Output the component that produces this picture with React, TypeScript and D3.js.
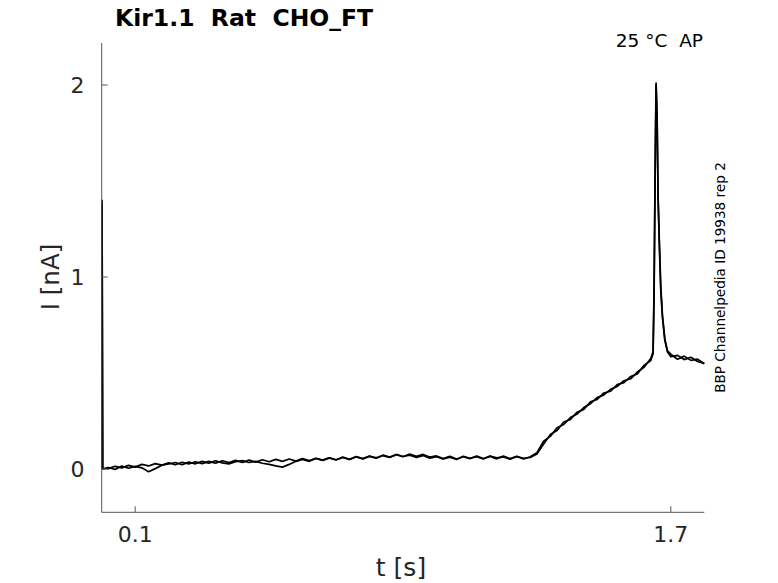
import { useMemo } from 'react';
import * as d3 from 'd3';

const WIDTH = 778;
const HEIGHT = 583;

const TITLE = 'Kir1.1  Rat  CHO_FT';
const CONDITION = '25 °C  AP';
const SIDE_NOTE = 'BBP Channelpedia ID 19938 rep 2';

const X_TICKS = [0.1, 1.7];
const Y_TICKS = [0, 1, 2];

// time points [s], shared by both sweeps
const timeS = [
  0.0005, 0.001, 0.003,
  0.02, 0.04, 0.06, 0.08, 0.10, 0.12, 0.14, 0.16, 0.18, 0.20,
  0.22, 0.24, 0.26, 0.28, 0.30, 0.32, 0.34, 0.36, 0.38, 0.40,
  0.42, 0.44, 0.46, 0.48, 0.50, 0.52, 0.54, 0.56, 0.58, 0.60,
  0.62, 0.64, 0.66, 0.68, 0.70, 0.72, 0.74, 0.76, 0.78, 0.80,
  0.82, 0.84, 0.86, 0.88, 0.90, 0.92, 0.94, 0.96, 0.98, 1.00,
  1.02, 1.04, 1.06, 1.08, 1.10, 1.12, 1.14, 1.16, 1.18, 1.20,
  1.22, 1.24, 1.26, 1.28,
  1.30, 1.32, 1.34, 1.36, 1.38, 1.40, 1.42, 1.44, 1.46, 1.48,
  1.50, 1.52, 1.54, 1.56, 1.58, 1.60, 1.62, 1.64,
  1.647, 1.650, 1.653, 1.656, 1.659, 1.662, 1.666, 1.670, 1.675, 1.682,
  1.69, 1.70, 1.72, 1.74, 1.76, 1.78, 1.80,
];

// current [nA], sweep 1
const sweepA = [
  0.0, 1.40, 0.004,
  0.002, 0.014, 0.006, 0.019, 0.010, 0.024, 0.016, 0.028, 0.020, 0.032,
  0.022, 0.035, 0.026, 0.038, 0.028, 0.040, 0.030, 0.043, 0.033, 0.045,
  0.034, 0.046, 0.036, 0.048, 0.038, 0.050, 0.040, 0.052, 0.041, 0.054,
  0.044, 0.056, 0.046, 0.058, 0.048, 0.060, 0.050, 0.063, 0.053, 0.066,
  0.056, 0.070, 0.060, 0.074, 0.064, 0.078, 0.066, 0.076, 0.062, 0.068,
  0.054, 0.066, 0.052, 0.064, 0.054, 0.068, 0.055, 0.066, 0.053, 0.067,
  0.054, 0.066, 0.052, 0.064,
  0.085, 0.145, 0.170, 0.215, 0.232, 0.268, 0.286, 0.320, 0.340, 0.372,
  0.386, 0.415, 0.430, 0.460, 0.470, 0.505, 0.530, 0.575,
  0.610, 0.950, 1.550, 2.010, 1.820, 1.400, 1.150, 0.930, 0.790, 0.670,
  0.610, 0.585, 0.592, 0.570, 0.582, 0.560, 0.550,
];

// current [nA], sweep 2
const sweepB = [
  0.0, 1.38, 0.000,
  0.008, -0.002, 0.016, 0.004, 0.014, 0.006, -0.014, 0.002, 0.020, 0.026,
  0.034, 0.022, 0.036, 0.027, 0.040, 0.030, 0.043, 0.032, 0.026, 0.038,
  0.044, 0.034, 0.040, 0.030, 0.024, 0.016, 0.010, 0.024, 0.040, 0.050,
  0.040, 0.055, 0.045, 0.058, 0.047, 0.062, 0.050, 0.065, 0.054, 0.068,
  0.058, 0.072, 0.062, 0.076, 0.065, 0.072, 0.060, 0.070, 0.056, 0.064,
  0.052, 0.062, 0.050, 0.066, 0.056, 0.064, 0.052, 0.068, 0.058, 0.063,
  0.051, 0.065, 0.056, 0.060,
  0.078, 0.130, 0.180, 0.200, 0.245, 0.258, 0.296, 0.310, 0.350, 0.362,
  0.396, 0.405, 0.440, 0.450, 0.482, 0.495, 0.540, 0.565,
  0.600, 0.900, 1.500, 2.000, 1.840, 1.420, 1.170, 0.950, 0.800, 0.680,
  0.615, 0.598, 0.572, 0.588, 0.566, 0.572, 0.548,
];

const SWEEPS = [sweepA, sweepB];

const FONT = 'DejaVu Sans, sans-serif';
const AXIS_COLOR = '#555';
const TEXT_COLOR = '#262626';

export default function App() {
  const x = useMemo(() => d3.scaleLinear().domain([0, 1.8]).range([101.7, 704.3]), []);
  const y = useMemo(() => d3.scaleLinear().domain([-0.2255, 2.219]).range([512.3, 43]), []);

  const paths = useMemo(() => {
    const line = d3.line<number>()
      .x((_, i) => x(timeS[i]))
      .y(d => y(d));
    return SWEEPS.map(s => line(s) ?? '');
  }, [x, y]);

  const [x0, x1] = x.range();
  const [yBottom, yTop] = y.range();

  return (
    <svg
      width={WIDTH}
      height={HEIGHT}
      style={{ position: 'absolute', left: 0, top: 0, background: '#fff' }}
      fontFamily={FONT}
    >
      {/* traces */}
      {paths.map((d, i) => (
        <path key={i} d={d} fill="none" stroke="#000" strokeWidth={1.7} strokeLinejoin="round" />
      ))}

      {/* axes */}
      <line x1={x0} x2={x0} y1={yTop} y2={yBottom} stroke={AXIS_COLOR} strokeWidth={1} />
      <line x1={x0} x2={x1} y1={yBottom} y2={yBottom} stroke={AXIS_COLOR} strokeWidth={1} />

      {X_TICKS.map(t => (
        <g key={t}>
          <line x1={x(t)} x2={x(t)} y1={yBottom} y2={yBottom - 6} stroke={AXIS_COLOR} />
          <text x={x(t)} y={541.5} textAnchor="middle" fontSize={22} fill={TEXT_COLOR}>
            {t}
          </text>
        </g>
      ))}

      {Y_TICKS.map(t => (
        <g key={t}>
          <line x1={x0} x2={x0 + 6} y1={y(t)} y2={y(t)} stroke={AXIS_COLOR} />
          <text x={84.5} y={y(t)} dy="0.36em" textAnchor="end" fontSize={22} fill={TEXT_COLOR}>
            {t}
          </text>
        </g>
      ))}

      {/* labels */}
      <text x={401} y={576} textAnchor="middle" fontSize={25} fill={TEXT_COLOR}>t [s]</text>
      <text
        transform={`translate(58.5, 277) rotate(-90)`}
        textAnchor="middle"
        fontSize={24.5}
        fill={TEXT_COLOR}
      >
        I [nA]
      </text>

      <text x={115} y={26} fontSize={23.5} fontWeight="bold" fill="#000" style={{ whiteSpace: 'pre' }}>
        {TITLE}
      </text>
      <text x={703} y={46.5} textAnchor="end" fontSize={18.5} fill="#000" style={{ whiteSpace: 'pre' }}>
        {CONDITION}
      </text>
      <text
        transform={`translate(725, 277.5) rotate(-90)`}
        textAnchor="middle"
        fontSize={13.6}
        fill="#000"
      >
        {SIDE_NOTE}
      </text>
    </svg>
  );
}
